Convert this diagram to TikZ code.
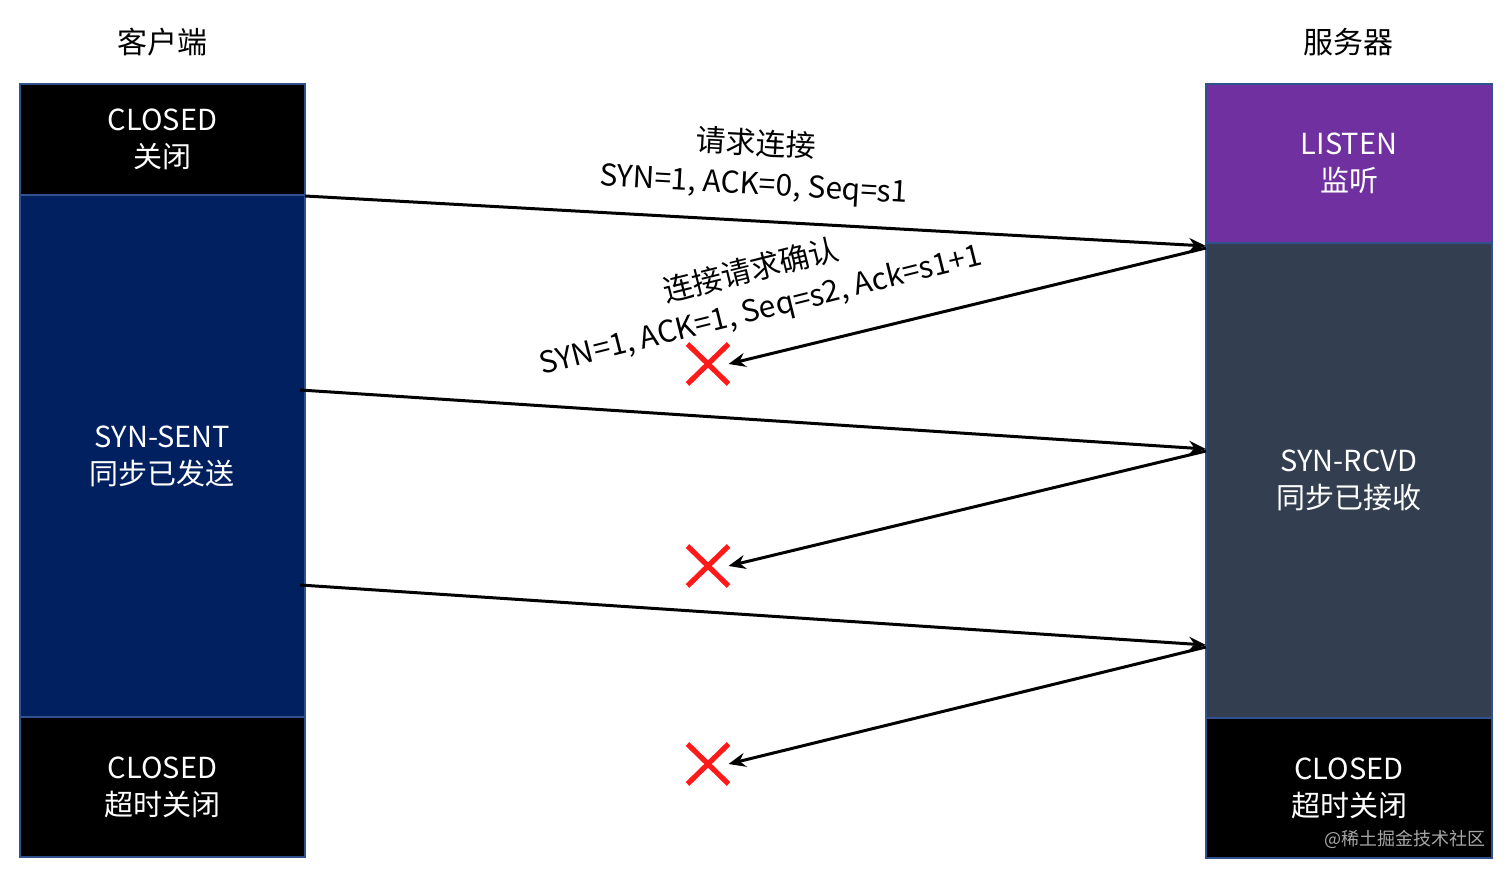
\documentclass[tikz,border=0pt]{standalone}
\usepackage{fontspec}
\setmainfont{Noto Sans CJK SC}
\usetikzlibrary{arrows.meta,shapes.misc}
\definecolor{navy}{HTML}{002060}
\definecolor{slate}{HTML}{333F50}
\definecolor{lpurple}{HTML}{7030A0}
\definecolor{boxedge}{HTML}{2F528F}
\definecolor{xred}{HTML}{FF1A1A}
\definecolor{wm}{HTML}{A6A6A6}
\begin{document}
\begin{tikzpicture}[x=0.5pt,y=-0.5pt,
  box/.style={draw=boxedge, line width=0.6pt, inner sep=0pt, outer sep=0pt,
    text=white, align=center, font=\fontsize{14.5}{18.5}\selectfont},
  lbox/.style={box, minimum width=142.5pt},
  rbox/.style={box, minimum width=143pt},
  title/.style={font=\fontsize{15}{18}\selectfont},
  msg/.style={line width=1.5pt, -{Stealth[length=8.5pt,width=7pt]}},
  lbl/.style={align=center, font=\fontsize{15}{20}\selectfont, inner sep=0pt},
  lost/.style={cross out, draw=xred, line width=2.6pt, minimum width=20.5pt,
    minimum height=20pt, inner sep=0pt, outer sep=0pt}]
\useasboundingbox (0,0) rectangle (1512,876);
% titles
\node[title] (tc) at (162,42) {客户端};
\node[title] (ts) at (1348,42) {服务器};
% client column
\node[lbox, fill=black, minimum height=55.5pt] (c1) at (162.5,139.5) {CLOSED\\关闭};
\node[lbox, fill=navy, minimum height=261pt] (sent) at (162.5,456) {SYN-SENT\\同步已发送};
\node[lbox, fill=black, minimum height=70pt] (c2) at (162.5,787) {CLOSED\\超时关闭};
% server column
\node[rbox, fill=lpurple, minimum height=79.5pt] (listen) at (1349,163.5) {LISTEN\\监听};
\node[rbox, fill=slate, minimum height=237.5pt] (rcvd) at (1349,480.5) {SYN-RCVD\\同步已接收};
\node[rbox, fill=black, minimum height=70pt] (c3) at (1349,788) {CLOSED\\超时关闭};
\node[text=wm, font=\fontsize{9}{10}\selectfont, inner sep=0pt] (wmk) at (1405,839) {@稀土掘金技术社区};
% lost marks
\node[lost] (x1) at (708,364) {};
\node[lost] (x2) at (708,566) {};
\node[lost] (x3) at (708,764) {};
% connector end points
\coordinate (s1) at (305,196);
\coordinate (r1) at (1206,246);
\coordinate (r1b) at (1206,248);
\coordinate (s2) at (300,390);
\coordinate (r2) at (1206,449);
\coordinate (r2b) at (1206,451);
\coordinate (s3) at (300,585);
\coordinate (r3) at (1206,645);
\coordinate (r3b) at (1206,647);
% messages
\draw[msg] (s1) -- (r1);
\draw[msg] (r1b) -- (x1.east);
\draw[msg] (s2) -- (r2);
\draw[msg] (r2b) -- (x2.east);
\draw[msg] (s3) -- (r3);
\draw[msg] (r3b) -- (x3.east);
% labels
\node[lbl, rotate=-3.2] (m1) at (755,165) {请求连接\\SYN=1, ACK=0, Seq=s1};
\node[lbl, rotate=14] (m2) at (756,291) {连接请求确认\\SYN=1, ACK=1, Seq=s2, Ack=s1+1};
\end{tikzpicture}
\end{document}
